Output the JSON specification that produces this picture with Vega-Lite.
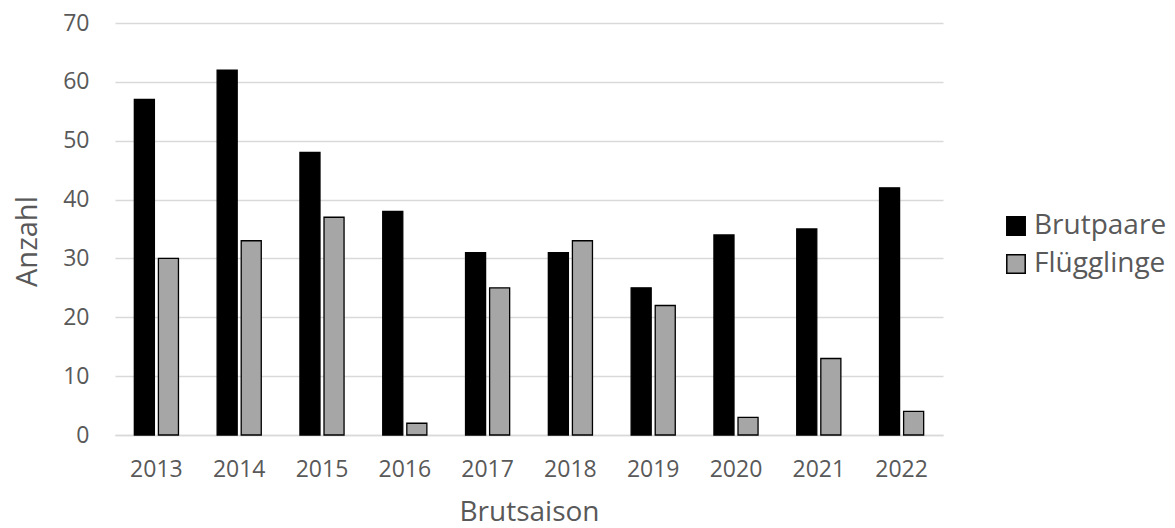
{
  "$schema": "https://vega.github.io/schema/vega-lite/v6.json",
  "width": 828,
  "height": 412,
  "autosize": {"type": "none"},
  "padding": {"left": 115, "top": 23, "right": 232, "bottom": 93},
  "background": "white",
  "config": {
    "view": {"stroke": null},
    "font": "Open Sans",
    "axis": {"labelFont": "Open Sans", "titleFont": "Open Sans", "labelColor": "#595959", "titleColor": "#595959", "titleFontWeight": "normal"},
    "legend": {"labelFont": "Open Sans", "labelColor": "#595959"}
  },
  "data": {
    "values": [
      {"Brutsaison": "2013", "Serie": "Brutpaare", "Anzahl": 57},
      {"Brutsaison": "2013", "Serie": "Flügglinge", "Anzahl": 30},
      {"Brutsaison": "2014", "Serie": "Brutpaare", "Anzahl": 62},
      {"Brutsaison": "2014", "Serie": "Flügglinge", "Anzahl": 33},
      {"Brutsaison": "2015", "Serie": "Brutpaare", "Anzahl": 48},
      {"Brutsaison": "2015", "Serie": "Flügglinge", "Anzahl": 37},
      {"Brutsaison": "2016", "Serie": "Brutpaare", "Anzahl": 38},
      {"Brutsaison": "2016", "Serie": "Flügglinge", "Anzahl": 2},
      {"Brutsaison": "2017", "Serie": "Brutpaare", "Anzahl": 31},
      {"Brutsaison": "2017", "Serie": "Flügglinge", "Anzahl": 25},
      {"Brutsaison": "2018", "Serie": "Brutpaare", "Anzahl": 31},
      {"Brutsaison": "2018", "Serie": "Flügglinge", "Anzahl": 33},
      {"Brutsaison": "2019", "Serie": "Brutpaare", "Anzahl": 25},
      {"Brutsaison": "2019", "Serie": "Flügglinge", "Anzahl": 22},
      {"Brutsaison": "2020", "Serie": "Brutpaare", "Anzahl": 34},
      {"Brutsaison": "2020", "Serie": "Flügglinge", "Anzahl": 3},
      {"Brutsaison": "2021", "Serie": "Brutpaare", "Anzahl": 35},
      {"Brutsaison": "2021", "Serie": "Flügglinge", "Anzahl": 13},
      {"Brutsaison": "2022", "Serie": "Brutpaare", "Anzahl": 42},
      {"Brutsaison": "2022", "Serie": "Flügglinge", "Anzahl": 4}
    ]
  },
  "mark": {"type": "bar", "stroke": "black", "strokeWidth": 1.3},
  "encoding": {
    "x": {
      "field": "Brutsaison",
      "type": "nominal",
      "scale": {"paddingInner": 0.467, "paddingOuter": 0.2335},
      "axis": {
        "title": "Brutsaison",
        "labelAngle": 0,
        "labelFontSize": 23,
        "labelPadding": 23,
        "ticks": false,
        "domainColor": "#d9d9d9",
        "domainWidth": 1.3,
        "titleFontSize": 28,
        "titleX": 414,
        "titleY": 77,
        "titleBaseline": "middle",
        "titleAlign": "center"
      }
    },
    "xOffset": {
      "field": "Serie",
      "type": "nominal",
      "scale": {"paddingInner": 0.167, "paddingOuter": 0}
    },
    "y": {
      "field": "Anzahl",
      "type": "quantitative",
      "scale": {"domain": [0, 70], "nice": false},
      "axis": {
        "title": "Anzahl",
        "values": [0, 10, 20, 30, 40, 50, 60, 70],
        "labelFontSize": 23,
        "labelPadding": 26,
        "ticks": false,
        "domain": false,
        "gridColor": "#d9d9d9",
        "gridWidth": 1.3,
        "titleFontSize": 29,
        "titleAngle": -90,
        "titleX": -88,
        "titleY": 218,
        "titleAlign": "center",
        "titleBaseline": "middle"
      }
    },
    "fill": {
      "field": "Serie",
      "type": "nominal",
      "scale": {"domain": ["Brutpaare", "Flügglinge"], "range": ["#000000", "#a6a6a6"]},
      "legend": {
        "title": null,
        "orient": "none",
        "legendX": 887,
        "legendY": 189,
        "symbolType": "square",
        "symbolSize": 340,
        "symbolStrokeColor": "black",
        "symbolStrokeWidth": 1.5,
        "labelFontSize": 28,
        "labelOffset": 4,
        "rowPadding": 10
      }
    }
  }
}
